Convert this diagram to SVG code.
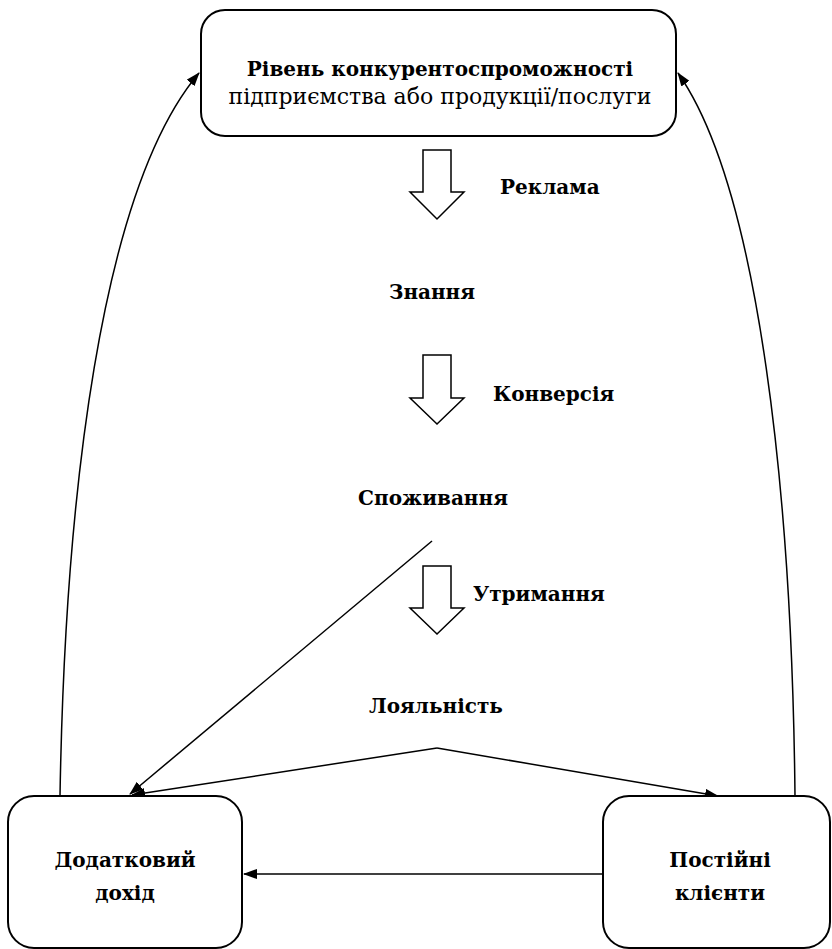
<svg xmlns="http://www.w3.org/2000/svg" width="832" height="949" viewBox="0 0 832 949">
<style>
.box{fill:#fff;stroke:#000;stroke-width:2}
.ha{fill:#fff;stroke:#000;stroke-width:1.5;stroke-linejoin:miter}
.b{font-family:"DejaVu Serif","Liberation Serif",serif;font-weight:bold;font-size:20px;fill:#000}
.r{font-family:"DejaVu Serif","Liberation Serif",serif;font-size:22px;fill:#000}
.c{fill:none;stroke:#000;stroke-width:1.5}
</style>
<defs>
<marker id="ah" markerWidth="14" markerHeight="10" refX="13" refY="5" orient="auto" markerUnits="userSpaceOnUse">
<path d="M0,0 L14,5 L0,10 Z" fill="#000"/>
</marker>
</defs>
<rect width="832" height="949" fill="#fff"/>
<g id="connectors">
<path class="c" d="M60,796 C65,500 100,190 199,73" marker-end="url(#ah)"/>
<path class="c" d="M795,796 C792,500 760,190 678,73" marker-end="url(#ah)"/>
<line class="c" x1="432" y1="541" x2="130" y2="794" marker-end="url(#ah)"/>
<line class="c" x1="437" y1="748" x2="132" y2="795" marker-end="url(#ah)"/>
<line class="c" x1="437" y1="748" x2="718" y2="796" marker-end="url(#ah)"/>
<line class="c" x1="603" y1="874" x2="244" y2="874" marker-end="url(#ah)"/>
</g>
<g id="top">
<rect class="box" x="201" y="10" width="475" height="126" rx="24"/>
<text class="b" x="440" y="76" text-anchor="middle">Рівень конкурентоспроможності</text>
<text class="r" x="440" y="104" text-anchor="middle">підприємства або продукції/послуги</text>
</g>
<g id="arrow1"><path class="ha" d="M423,150 H451 V192 H464 L437,219 L410,192 H423 Z"/><text class="b" x="500" y="194">Реклама</text></g>
<g id="znannia"><text class="b" x="432" y="299" text-anchor="middle" font-size="19">Знання</text></g>
<g id="arrow2"><path class="ha" d="M423,355 H451 V398 H464 L437,424 L410,398 H423 Z"/><text class="b" x="493" y="401">Конверсія</text></g>
<g id="spozhyvannia"><text class="b" x="433" y="505" text-anchor="middle">Споживання</text></g>
<g id="arrow3"><path class="ha" d="M423,566 H451 V608 H464 L437,634 L410,608 H423 Z"/><text class="b" x="473" y="601">Утримання</text></g>
<g id="loialnist"><text class="b" x="436" y="713" text-anchor="middle">Лояльність</text></g>
<g id="dodatkovyi">
<rect class="box" x="8" y="796" width="234" height="152" rx="26"/>
<text class="b" x="125" y="867" text-anchor="middle">Додатковий</text>
<text class="b" x="125" y="900" text-anchor="middle">дохід</text>
</g>
<g id="postiini">
<rect class="box" x="603" y="796" width="227" height="152" rx="26"/>
<text class="b" x="720" y="867" text-anchor="middle">Постійні</text>
<text class="b" x="720" y="900" text-anchor="middle">клієнти</text>
</g>
</svg>
